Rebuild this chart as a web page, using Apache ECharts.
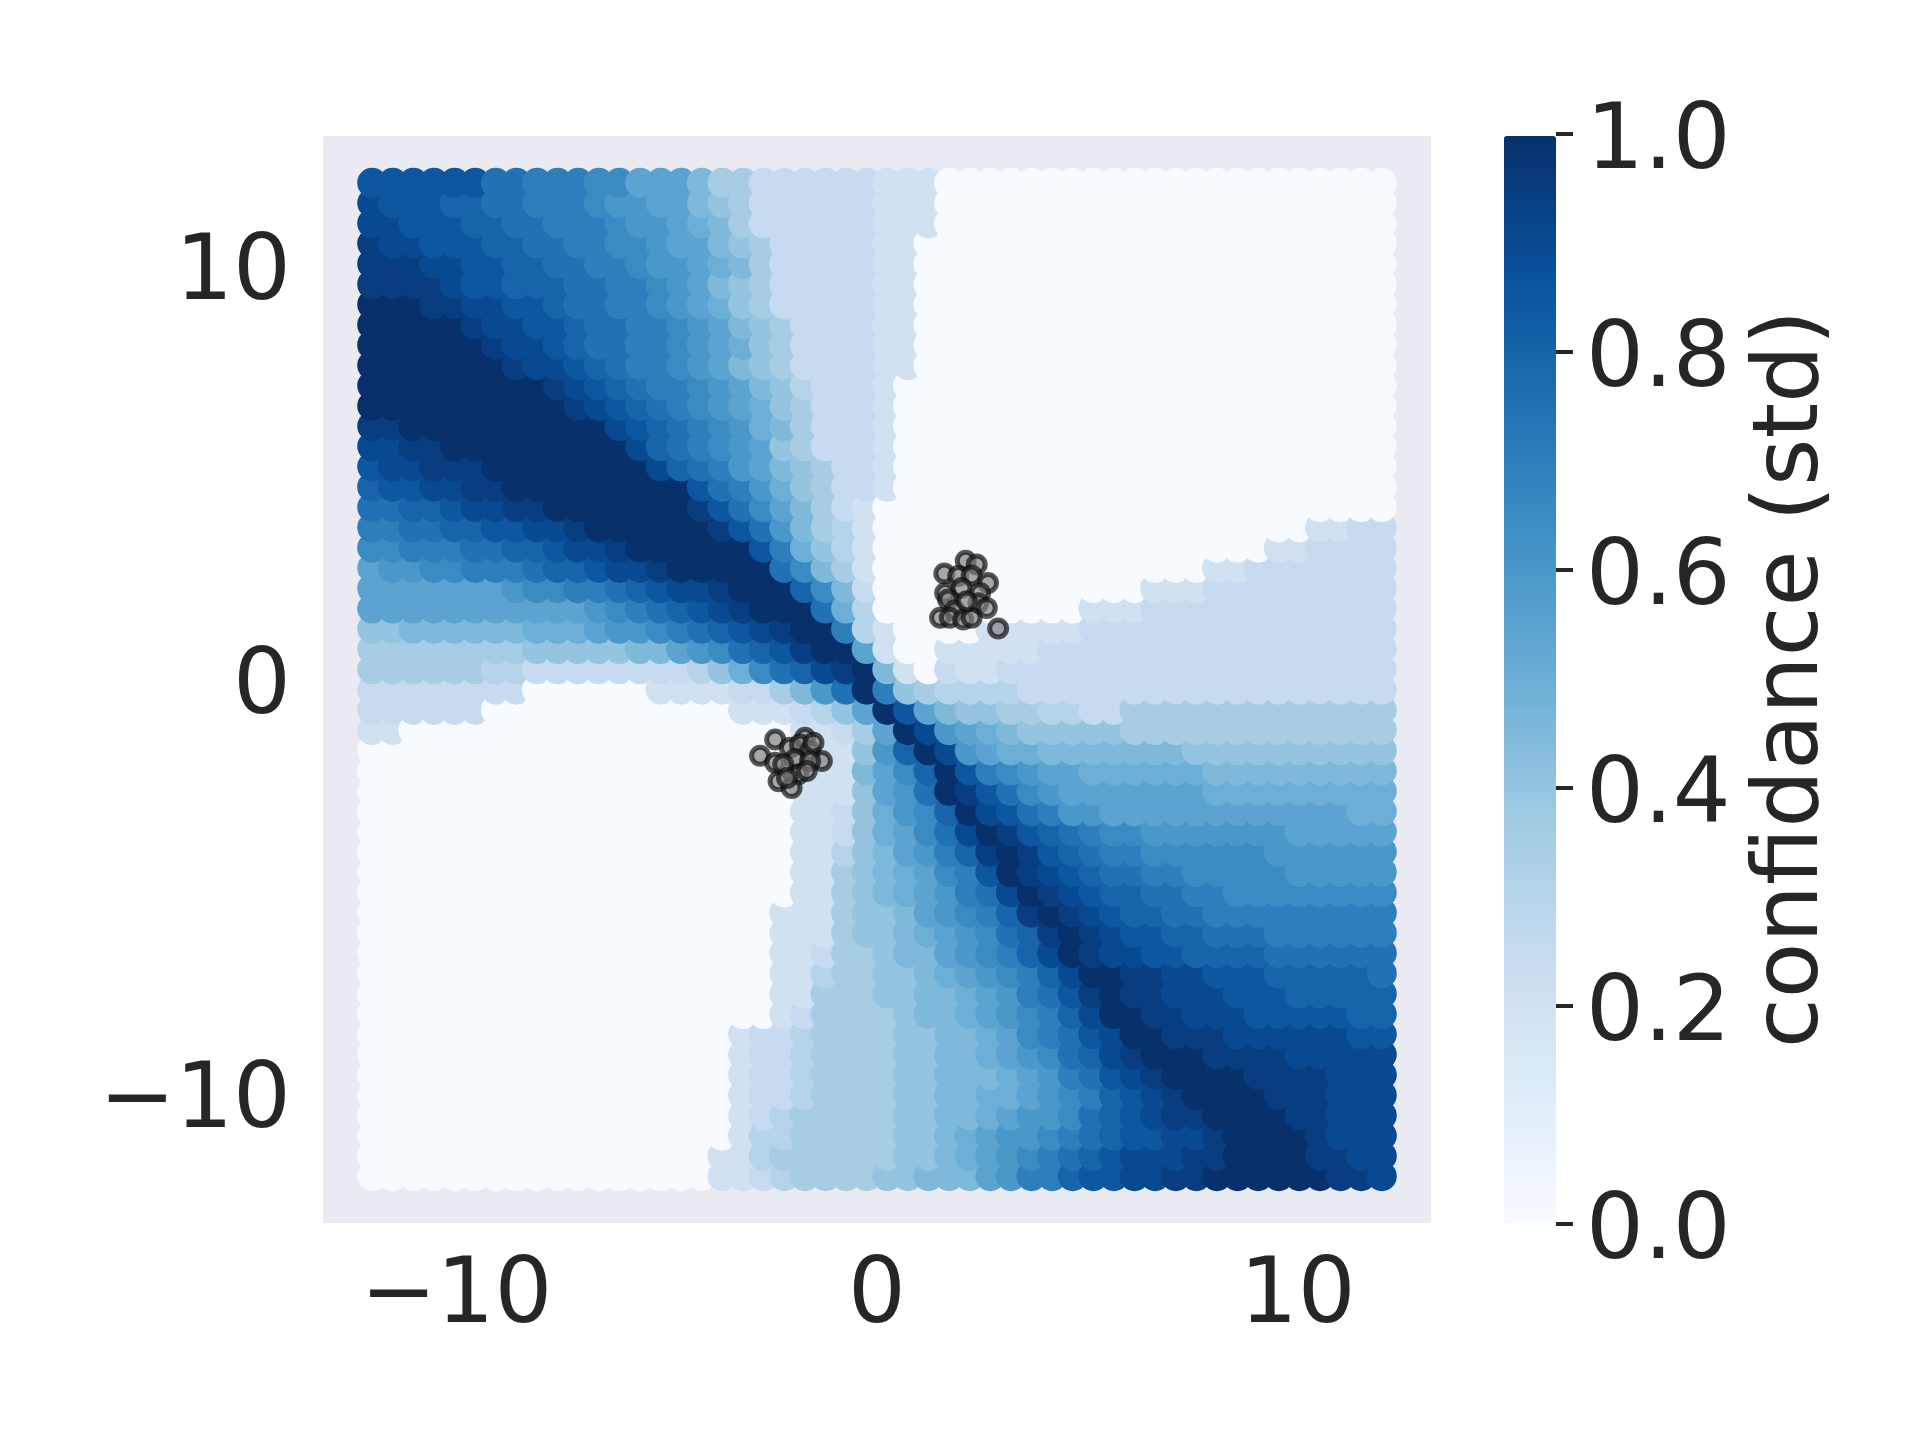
<!DOCTYPE html>
<html><head><meta charset="utf-8">
<style>html,body{margin:0;padding:0;background:#fff}#c{width:1920px;height:1440px}</style>
<script src="https://cdn.jsdelivr.net/npm/echarts@6/dist/echarts.min.js"></script>
</head><body><div id="c"></div>
<script>
// Confidence; each char is a level (index x 0.05), rows top to bottom, columns left to right.
const levels = "0123456789abcdefghijk";
const confidenceRows = [
"hhhhhhffeeeddbbb977555555444",
"ihhhggffeeedccbb987555555444",
"iihhhggffeeedccba97555555444",
"jiihhhggffeeddcbb9875555544",
"jjjiihhggffeedccba975555544",
"jjjjihhgggffeedcb9875555544",
"kkkjjiihhgffeedcba875555544",
"kkkkkjiihhgffeedcb987555544",
"kkkkkkjiihgffeedcba87555544",
"kkkkkkkjiihgfeedcb987555544",
"kkkkkkkkkjihgfeedcb9865554",
"kkkkkkkkkkjihgfedcba875554",
"jjkkkkkkkkkkihgfedca975554",
"iijjkkkkkkkkkigfedcb875554",
"hiijjjkkkkkkkkigfecb987554",
"ghhiijjkkkkkkkkkhfeca87554",
"ffgghiijjkkkkkkkjhfdb9754",
"eeffgghhiijkkkkkkjhfc9764000000000000000000000"+"4455",
"ddeeeffgghiijkkkkkkhea864"+"0000000000000000000"+"445555",
"bccddeeefgghiijkkkkkfd974"+"0000000000000000"+"445555555",
"bbbbbbbcddeefghiijkkkgd95"+"0000000000000"+"444555555555",
"bbbbbbbbbbbcdefghijkkkfa6"+"0000000000"+"444555555555555",
"88999999aaabccdefghijkke64"+"0000"+"44444555555555555555",
"7777777788888"+"99bcdfghjkk"+"b4"+"00"+"4444455555555555555555",
"77777766"+"55555555"+"68adfgijk94"+"0"+"54"+"4"+"55555555555555555555",
"55555555"+"000000"+"4444"+"55"+"79cfke876666"+"555555555555555555",
"555555"+"000000000000"+"444"+"568bkhb988776655"+"7777777777777",
"44"+"0000000000000000000"+"44"+"57bkicba9"+"88888"+"7777777777777",
"000000000000000000000"+"444"+"8cgkicbaa9"+"9"+"99999"+"8888888888",
"000000000000000000000"+"444"+"9bdgkhedcbb"+"aaaaaa"+"999999999",
"000000000000000000000"+"444"+"8bcfkjhfdcb"+"bbbbbb"+"aaaaaaaaa",
"000000000000000000000"+"44"+"58acdgkihfec"+"c"+"bbbbbbbbbbbb"+"aa",
"000000000000000000000"+"44"+"58abdfikjhgfedd"+"ccccccc"+"bbbbb",
"000000000000000000000"+"44"+"689bcegjkjhgfee"+"dddddd"+"cccccc",
"000000000000000000000"+"44"+"78"+"9abdehkjihgffee"+"ddddd"+"ccccc",
"000000000000000000000"+"44"+"78"+"9abcefikjihggff"+"ee"+"dddddddd",
"00000000000000000000"+"444"+"7889bcdegjkjihggff"+"eeeeeeeee",
"00000000000000000000"+"444"+"78"+"89abcdfgjkjihhggfffe"+"eeeee",
"00000000000000000000"+"44"+"5"+"77"+"899bcdegikjiihhggggf"+"fffff",
"00000000000000000000"+"44"+"6"+"77"+"889abcdegikkjjiihhhg"+"ggggf",
"00000000000000000000"+"44"+"777"+"8899abcefhjkjjiiihhh"+"ggggg",
"00000000000000000000"+"45"+"777"+"7899abcdegikkjjiiihh"+"hhhgg",
"000000000000000000"+"4"+"55"+"6"+"777"+"78899abdefhikkjjjiii"+"iiihh",
"000000000000000000"+"4"+"55"+"6"+"777"+"78899abcdfgijkkkjjjj"+"iiiii",
"000000000000000000"+"4"+"55"+"6"+"777"+"788999abcefhijkkkkjj"+"jjiii",
"000000000000000000"+"4"+"55"+"6"+"777"+"78899aabcdeghijkkkkj"+"jjiii",
"000000000000000000"+"4"+"56"+"7"+"777"+"78899abccdfghijjkkkk"+"jjiii",
"000000000000000000"+"4"+"66"+"7"+"777"+"7889abccdefghhiijkkk"+"kjiii",
"00000000000000000"+"44"+"67"+"7"+"777"+"7889abcdefghiiijjkkk"+"kjjii",
"00000000000000000"+"44"+"56"+"7777"+"88999bceeghhiijjkkkkkkjji"
];
const gridMin = -12, gridMax = 12;
const pointsX = [2.11,2.37,1.60,1.93,2.25,2.64,1.62,2.01,2.45,1.69,2.41,1.85,1.50,1.73,2.05,2.25,2.61,2.13,2.88,
  -2.42,-1.71,-2.78,-2.07,-1.83,-1.59,-1.31,-2.42,-1.95,-1.59,-1.87,-2.23,-2.34,-2.03,-2.14,-1.67,-1.51];
const pointsY = [2.87,2.78,2.56,2.50,2.51,2.33,2.09,2.21,2.09,1.93,1.84,1.67,1.49,1.49,1.45,1.49,1.73,1.89,1.23,
  -1.45,-1.41,-1.84,-1.65,-1.57,-1.73,-1.97,-2.01,-1.92,-1.97,-2.29,-2.05,-2.46,-2.62,-2.38,-2.21,-1.53];
const plotTicks = [-10, 0, 10];
const colorbarLabel = "confidance (std)";
const blues = ['#f7fbff','#deebf7','#c6dbef','#9ecae1','#6baed6','#4292c6','#2171b5','#08519c','#08306b'];

const n = confidenceRows.length;
const cells = [];
for (let c = 0; c < n; c++) {
  for (let r = n - 1; r >= 0; r--) {
    const row = confidenceRows[r].padEnd(n, '0');
    cells.push([
      gridMin + c * (gridMax - gridMin) / (n - 1),
      gridMax - r * (gridMax - gridMin) / (n - 1),
      levels.indexOf(row[c]) * 0.05
    ]);
  }
}
const font = 'DejaVu Sans', ink = '#262626', fs = 91;
const fmt = v => String(v).replace('-', '\u2212');
const chart = echarts.init(document.getElementById('c'), null, {renderer: 'canvas'});
chart.setOption({
  animation: false,
  backgroundColor: '#fff',
  grid: [
    {left: 323, top: 136, width: 1108, height: 1087, show: true, backgroundColor: '#EAEAF2', borderWidth: 0},
    {left: 1504, top: 134, width: 52, height: 1090, show: false}
  ],
  xAxis: [
    {type: 'value', gridIndex: 0, min: -13.17, max: 13.17,
     axisLine: {show: false}, axisTick: {show: false}, splitLine: {show: false},
     axisLabel: {customValues: plotTicks, formatter: fmt, fontFamily: font, fontSize: fs, color: ink, margin: 30}},
    {type: 'value', gridIndex: 1, min: 0, max: 1, show: false}
  ],
  yAxis: [
    {type: 'value', gridIndex: 0, min: -13.13, max: 13.13,
     axisLine: {show: false}, axisTick: {show: false}, splitLine: {show: false},
     axisLabel: {customValues: plotTicks, formatter: fmt, fontFamily: font, fontSize: fs, color: ink, margin: 32,
                 verticalAlign: 'top', lineHeight: 20}},
    {type: 'value', gridIndex: 1, position: 'right', min: 0, max: 1, interval: 0.2,
     axisLine: {show: false, onZero: false}, splitLine: {show: false},
     axisTick: {show: true, length: 17, lineStyle: {color: ink, width: 4}},
     axisLabel: {formatter: v => v.toFixed(1), fontFamily: font, fontSize: fs, color: ink, margin: 30,
                 verticalAlign: 'top', lineHeight: 20},
     name: colorbarLabel, nameLocation: 'middle', nameRotate: 90, nameGap: 192,
     nameTextStyle: {fontFamily: font, fontSize: fs, color: ink}}
  ],
  visualMap: {
    type: 'continuous', seriesIndex: 0, dimension: 2, min: 0, max: 1,
    left: 1504, top: 136, itemWidth: 52, itemHeight: 1087, padding: 0,
    calculable: false, showLabel: false, text: null, hoverLink: false,
    inRange: {color: blues}
  },
  series: [
    {type: 'scatter', xAxisIndex: 0, yAxisIndex: 0, data: cells, symbol: 'circle', symbolSize: 30,
     silent: true, large: false, progressive: 0, itemStyle: {opacity: 1}},
    {type: 'scatter', xAxisIndex: 0, yAxisIndex: 0, data: pointsX.map((x, i) => [x, pointsY[i]]),
     symbol: 'circle', symbolSize: 17, silent: true, z: 5,
     itemStyle: {color: 'rgba(128,128,128,0.85)', borderColor: 'rgba(15,15,15,0.88)', borderWidth: 5}}
  ]
});
</script></body></html>
